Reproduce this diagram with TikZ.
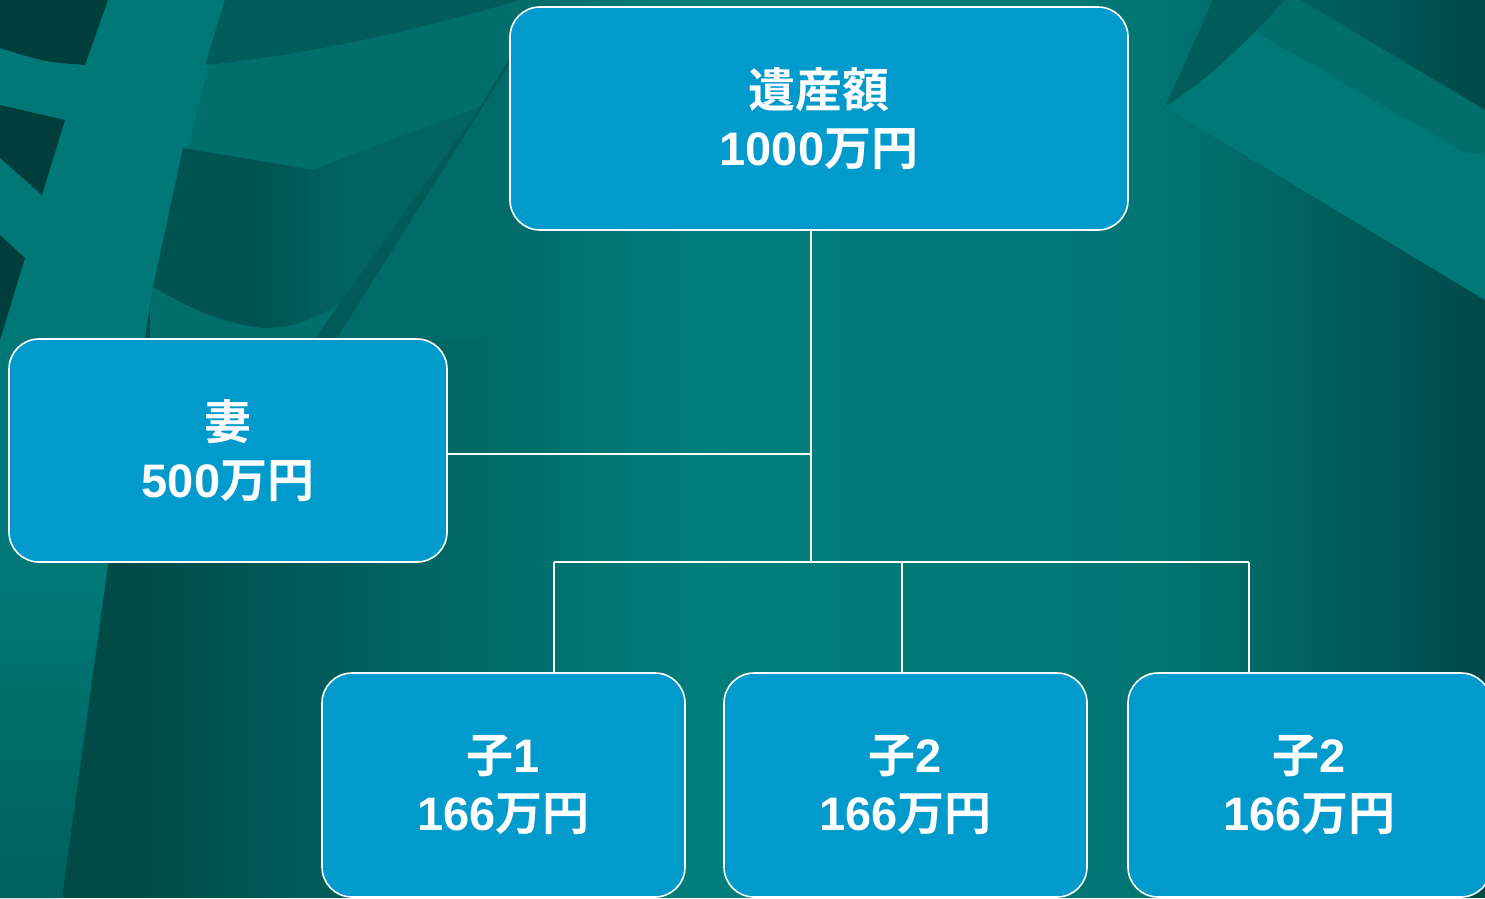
\documentclass[tikz,border=0pt]{standalone}
\usepackage{fontspec}
\newfontfamily\cjk{Noto Sans CJK JP}[BoldFont={Noto Sans CJK JP Bold}]
\newfontfamily\lat{Liberation Sans}
\definecolor{boxblue}{HTML}{009ACD}
\definecolor{bgL}{HTML}{004A48}
\definecolor{bgM}{HTML}{007E7B}
\definecolor{bgS}{HTML}{007673}
\definecolor{bgR}{HTML}{00494A}
\definecolor{rLight}{HTML}{007976}
\definecolor{rLightB}{HTML}{005F5C}
\definecolor{rDark}{HTML}{003E3C}
\definecolor{rMid}{HTML}{005D5A}
\definecolor{rMid2}{HTML}{005350}
\definecolor{rBand}{HTML}{006F6C}
\definecolor{rMed}{HTML}{006562}
\definecolor{rStripe}{HTML}{005B58}
\definecolor{rRightOf}{HTML}{006B68}
\begin{document}
\begin{tikzpicture}[x=1pt,y=-1pt,
  box/.style={draw=white, line width=1.6pt, fill=boxblue, rounded corners=30pt,
    align=center, text=white, inner sep=0pt,
    font=\cjk\bfseries\fontsize{47}{58}\selectfont},
  bigbox/.style={box, minimum width=618pt, minimum height=223pt},
  sidebox/.style={box, minimum width=438pt, minimum height=223pt},
  kidbox/.style={box, minimum width=363pt, minimum height=224pt},
  link/.style={draw=white, line width=1.5pt}]
\useasboundingbox (0,0) rectangle (1485,898);
\begin{scope}
\clip (0,0) rectangle (1485,898);
% background: piecewise horizontal gradient drawn as thin strips
\foreach \i in {0,...,139}{
  \pgfmathsetmacro{\xx}{\i*5}
  \pgfmathsetmacro{\p}{max(0,min(100,(\xx-120)/5.8))}
  \fill[bgM!\p!bgL] (\xx,0) rectangle (\xx+5.8,898);
}
\foreach \i in {140,...,229}{
  \pgfmathsetmacro{\xx}{\i*5}
  \pgfmathsetmacro{\p}{max(0,min(100,(\xx-700)/4.5))}
  \fill[bgS!\p!bgM] (\xx,0) rectangle (\xx+5.8,898);
}
\foreach \i in {230,...,297}{
  \pgfmathsetmacro{\xx}{\i*5}
  \pgfmathsetmacro{\p}{max(0,min(100,(\xx-1150)/3.35))}
  \fill[bgR!\p!bgS] (\xx,0) rectangle (\xx+5.8,898);
}
% top-left ribbons
\fill[rBand] (150,287) -- (205,65) .. controls (300,55) and (400,35) .. (520,0)
  -- (512,60) -- (336,339.5) -- (150,339.5) -- cycle;
\fill[rRightOf] (512,60) -- (512,339.5) -- (336,339.5) -- cycle;
% long light ribbon on the left, darker towards the bottom
\begin{scope}
  \clip (0,0) -- (225,0) -- (153,287) -- (108,565) -- (62,898) -- (0,898) -- cycle;
  \fill[rLight] (0,0) rectangle (230,560);
  \foreach \j in {0,...,34}{
    \pgfmathsetmacro{\yy}{560+\j*10}
    \pgfmathsetmacro{\q}{\j*100/34}
    \fill[rLightB!\q!rLight] (0,\yy) rectangle (230,\yy+10.8);
  }
\end{scope}
\fill[rDark] (0,0) -- (108,0) -- (85,65) .. controls (45,62) .. (0,48) -- cycle;
\fill[rDark] (0,105) -- (65,120) -- (42,195) -- (0,158) -- cycle;
\fill[rDark] (0,235) -- (25,258) -- (0,340) -- cycle;
\fill[rMid] (225,0) -- (520,0) .. controls (400,35) and (300,55) .. (205,65) -- cycle;
% dark patch fading into the medium area
\begin{scope}
  \clip (183,148) -- (313,170) .. controls (390,140) .. (480,107) -- (340,303)
    .. controls (310,322) and (290,328) .. (263,328)
    .. controls (215,322) and (185,305) .. (153,287) -- cycle;
  \foreach \k in {0,...,34}{
    \pgfmathsetmacro{\xx}{150+\k*10}
    \pgfmathsetmacro{\r}{max(0,min(100,(\xx-250)/1.0))}
    \fill[rMed!\r!rMid2] (\xx,100) rectangle (\xx+10.8,340);
  }
\end{scope}
\fill[rStripe] (480,107) -- (510,57) -- (512,60) -- (336,339.5) -- (314,339.5) -- cycle;
% top-right ribbons
\fill[rBand] (1213,0) -- (1300,0) -- (1485,110) -- (1485,300) -- (1165,107) -- cycle;
\fill[rLight] (1255,32) -- (1463,152) -- (1485,155) -- (1485,300) -- (1165,107)
  .. controls (1200,85) .. (1255,32) -- cycle;
\fill[rMid] (1213,0) -- (1165,107) .. controls (1210,75) .. (1255,32) -- (1285,0) -- cycle;

% nodes
\node[bigbox] (top) at (819,118.5) {遺産額\\{\lat 1000}万円};
\node[sidebox] (wife) at (228,450.5) {妻\\{\lat 500}万円};
\node[kidbox] (c1) at (503.5,785) {子{\lat 1}\\{\lat 166}万円};
\node[kidbox] (c2) at (905.5,785) {子{\lat 2}\\{\lat 166}万円};
\node[kidbox] (c3) at (1309.5,785) {子{\lat 2}\\{\lat 166}万円};

% connectors
\coordinate (t) at (811,230);
\coordinate (w) at (811,454);
\coordinate (b) at (811,562);
\coordinate (b1) at (554,562);
\coordinate (b2) at (902,562);
\coordinate (b3) at (1249,562);
\draw[link] (top.south -| t) -- (b);
\draw[link] (wife.east |- w) -- (w);
\draw[link] (b1) -- (b3);
\draw[link] (b1) -- (b1 |- c1.north);
\draw[link] (b2) -- (b2 |- c2.north);
\draw[link] (b3) -- (b3 |- c3.north);
\end{scope}
\end{tikzpicture}
\end{document}
